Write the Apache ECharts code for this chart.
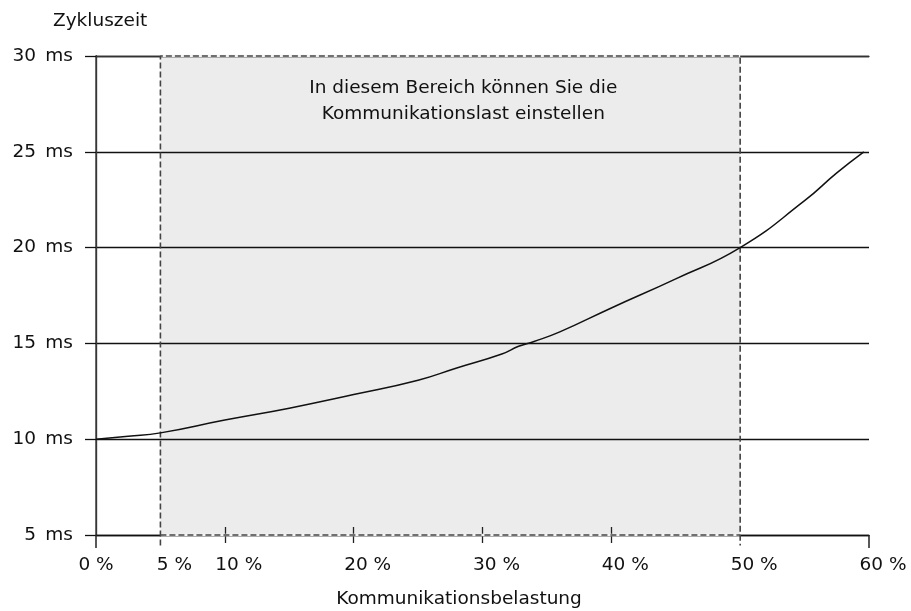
<!DOCTYPE html>
<html>
<head>
<meta charset="utf-8">
<script src="https://cdn.jsdelivr.net/npm/echarts@6/dist/echarts.min.js"></script>
<style>
html,body{margin:0;padding:0;background:#fff;}
#chart{width:911px;height:611px;}
</style>
</head>
<body>
<div id="chart"></div>
<script>
// ---- data ----
const loadPct = [0, 2.5, 5, 10, 15, 20, 25, 28, 31.5, 32.8, 34, 36, 40, 45, 50, 55, 57.5, 59.6];
const cycleMs = [10.0, 10.15, 10.33, 11.0, 11.62, 12.33, 13.08, 13.72, 14.45, 14.85, 15.1, 15.6, 16.85, 18.37, 20.0, 22.45, 23.9, 25.0];
const xTickLabels = [0, 5, 10, 20, 30, 40, 50, 60];
const xInnerTicks = [10, 20, 30, 40];
const xEdgeTicks = [0, 60];
const rangeX = [5, 50];
const rangeY = [5, 30];
const xName = 'Kommunikationsbelastung';
const yName = 'Zykluszeit';
const areaText = 'In diesem Bereich können Sie die\nKommunikationslast einstellen';

const FONT = 'DejaVu Sans';
const FS = 18.5;
const TXT = '#111';

const curve = loadPct.map((x, i) => [x, cycleMs[i]]);
const below = rangeY[0] - 0.55;

const chart = echarts.init(document.getElementById('chart'), null, {renderer: 'canvas'});
const baseX = {type: 'value', min: 0, max: 60, gridIndex: 0};
chart.setOption({
  animation: false,
  backgroundColor: '#fff',
  title: {
    text: yName, left: 53, top: 12, padding: 0,
    textStyle: {fontFamily: FONT, fontSize: FS, fontWeight: 'normal', color: TXT}
  },
  grid: {left: 96, right: 42, top: 56, bottom: 76, outerBoundsMode: 'none', containLabel: false},
  xAxis: [
    Object.assign({}, baseX, {
      position: 'bottom', z: 3,
      name: xName, nameLocation: 'middle', nameGap: 55,
      nameTextStyle: {fontFamily: FONT, fontSize: FS, color: TXT, padding: [0, 47, 0, 0]},
      axisLine: {show: true, lineStyle: {color: '#111', width: 1.3}},
      axisTick: {show: true, customValues: xEdgeTicks, length: 13, lineStyle: {color: '#222', width: 1.5}},
      axisLabel: {
        show: true, customValues: xTickLabels, margin: 21, hideOverlap: false,
        fontFamily: FONT, fontSize: FS, color: TXT,
        formatter: v => v === 0 ? '{a|0 %}' : '{b|' + v + ' %}',
        rich: {
          a: {fontFamily: FONT, fontSize: FS, color: TXT},
          b: {fontFamily: FONT, fontSize: FS, color: TXT, padding: [0, 0, 0, 28]}
        }
      },
      splitLine: {show: false}
    }),
    Object.assign({}, baseX, {
      position: 'bottom', z: 3, offset: 8,
      axisLine: {show: false},
      axisTick: {show: true, inside: true, customValues: xInnerTicks, length: 16, lineStyle: {color: '#222', width: 1.3}},
      axisLabel: {show: false}, splitLine: {show: false}
    }),
    Object.assign({}, baseX, {
      position: 'top', z: 3,
      axisLine: {show: true, lineStyle: {color: '#333', width: 1.3}},
      axisTick: {show: false}, axisLabel: {show: false}, splitLine: {show: false}
    })
  ],
  yAxis: [
    {
      type: 'value', min: 5, max: 30, interval: 5, position: 'left', z: 3,
      axisLine: {show: true, lineStyle: {color: '#111', width: 1.3}},
      axisTick: {show: true, length: 11, lineStyle: {color: '#111', width: 1.3}},
      axisLabel: {
        margin: 23, fontFamily: FONT, fontSize: FS, color: TXT,
        formatter: v => v + '\u2002ms'
      },
      splitLine: {show: true, lineStyle: {color: '#111', width: 1.3}}
    },
    {
      type: 'value', min: 5, max: 30, position: 'right', z: 3,
      axisLine: {show: true, lineStyle: {color: '#444', width: 1.5}},
      axisTick: {show: false}, axisLabel: {show: false}, splitLine: {show: false}
    }
  ],
  series: [
    {
      type: 'line', z: 1, data: [], silent: true,
      markArea: {
        silent: true,
        itemStyle: {color: '#ececec', borderWidth: 0},
        label: {
          show: true, position: 'insideTop', distance: 19, offset: [13, 0],
          fontFamily: FONT, fontSize: FS, color: TXT, lineHeight: 26, align: 'center'
        },
        data: [[
          {name: areaText, xAxis: rangeX[0], yAxis: rangeY[0]},
          {xAxis: rangeX[1], yAxis: rangeY[1]}
        ]]
      }
    },
    {
      type: 'line', z: 4, silent: true, showSymbol: false, clip: false,
      data: [[rangeX[0], rangeY[1]], [rangeX[1], rangeY[1]]],
      lineStyle: {color: '#f4f4f4', width: 2.5}
    },
    {
      type: 'line', z: 4, silent: true, showSymbol: false, clip: false,
      data: [[rangeX[0], rangeY[0]], [rangeX[1], rangeY[0]]],
      lineStyle: {color: '#f4f4f4', width: 2.5}
    },
    {
      type: 'line', z: 5, silent: true, showSymbol: false, clip: false,
      data: [[rangeX[0], below], [rangeX[0], rangeY[1]], [rangeX[1], rangeY[1]], [rangeX[1], below]],
      lineStyle: {color: '#444', width: 1.6, type: [6, 3]}
    },
    {
      type: 'line', z: 5, silent: true, showSymbol: false, clip: false,
      data: [[rangeX[0], rangeY[0]], [rangeX[1], rangeY[0]]],
      lineStyle: {color: '#444', width: 1.6, type: [6, 3]}
    },
    {
      type: 'line', z: 6, silent: true, showSymbol: false, smooth: 0.5,
      data: curve,
      lineStyle: {color: '#111', width: 1.5}
    }
  ]
});
</script>
</body>
</html>
